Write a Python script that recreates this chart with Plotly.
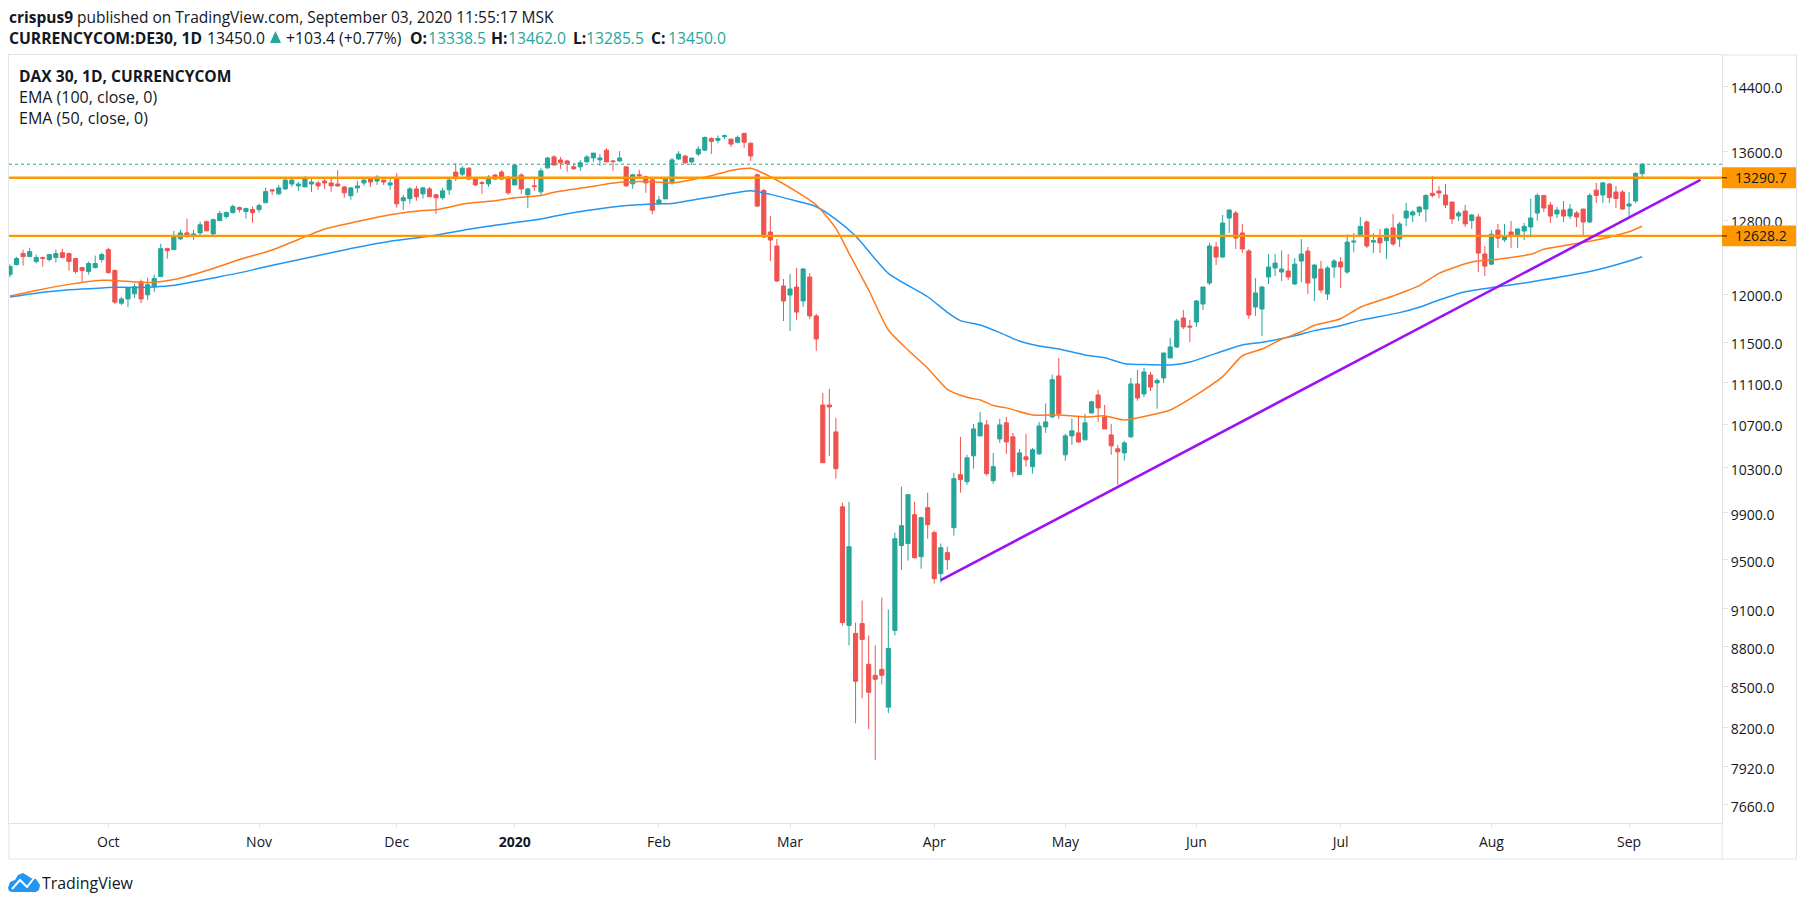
import math
import plotly.graph_objects as go

# daily bars, bar 0 = Sep 2019, last bar = Sep 3 2020
opens = [
    12207, 12315, 12434, 12401, 12347, 12390, 12369, 12390, 12444, 12434,
    12380, 12282, 12239, 12282, 12369, 12477, 12250, 11904, 11948, 12002,
    12131, 11991, 12077, 12185, 12488, 12477, 12596, 12662, 12628, 12662,
    12788, 12651, 12799, 12845, 12890, 12947, 12902, 12924, 12924, 13004,
    13150, 13104, 13161, 13218, 13196, 13184, 13218, 13230, 13253, 13230,
    13218, 13184, 13082, 13173, 13230, 13275, 13253, 13264, 13207, 13287,
    13025, 13048, 13161, 13104, 13161, 13093, 13059, 13150, 13357, 13333,
    13403, 13275, 13233, 13218, 13322, 13357, 13298, 13207, 13322, 13093,
    13197, 13127, 13407, 13536, 13501, 13489, 13419, 13419, 13477, 13524,
    13501, 13617, 13489, 13489, 13419, 13220, 13326, 13302, 13267, 12999,
    13046, 13244, 13512, 13547, 13477, 13571, 13617, 13758, 13735, 13780,
    13750, 13712, 13820, 13700, 13326, 13142, 12672, 12517, 12085, 11989,
    12074, 11926, 12180, 11771, 10885, 10885, 10630, 9953, 8967, 8905,
    8982, 8666, 8583, 8628, 8346, 8928, 9620, 9637, 9884, 9526,
    9945, 9730, 9385, 9560, 9772, 10238, 10175, 10409, 10593, 10696,
    10184, 10565, 10715, 10584, 10238, 10400, 10310, 10427, 10677, 10771,
    11166, 10418, 10593, 10621, 10556, 10809, 10981, 10771, 10602, 10473,
    10436, 10584, 11088, 10991, 11175, 11098, 11146, 11344, 11454, 11750,
    11667, 11708, 11895, 12116, 12506, 12396, 12829, 12885, 12661, 12462,
    11864, 11843, 12181, 12277, 12234, 12245, 12106, 12353, 12462, 12170,
    12266, 12000, 12288, 12342, 12234, 12560, 12628, 12784, 12560, 12605,
    12576, 12718, 12594, 12829, 12863, 12897, 12930, 13110, 13136, 13091,
    13010, 12851, 12908, 12800, 12840, 12429, 12319, 12693, 12585, 12672,
    12639, 12683, 12728, 12885, 13086, 12976, 12874, 12919, 12851, 12885,
    12930, 12784, 13147, 13091, 13218, 13125, 13125, 12964, 13022, 13338.5,
]
highs = [
    12315, 12398, 12477, 12498, 12423, 12401, 12423, 12477, 12488, 12444,
    12380, 12282, 12347, 12412, 12444, 12498, 12261, 11969, 12066, 12110,
    12153, 12174, 12207, 12542, 12498, 12685, 12696, 12822, 12696, 12788,
    12799, 12822, 12913, 12902, 12981, 12959, 12947, 12959, 12993, 13175,
    13161, 13207, 13298, 13287, 13241, 13310, 13275, 13253, 13287, 13287,
    13380, 13196, 13184, 13253, 13275, 13287, 13322, 13264, 13298, 13345,
    13093, 13184, 13196, 13184, 13184, 13104, 13173, 13298, 13462, 13427,
    13415, 13287, 13253, 13322, 13333, 13380, 13310, 13450, 13345, 13173,
    13290, 13407, 13536, 13559, 13536, 13501, 13466, 13501, 13559, 13582,
    13571, 13641, 13501, 13606, 13419, 13337, 13384, 13314, 13279, 13080,
    13302, 13524, 13606, 13559, 13524, 13664, 13782, 13770, 13794, 13805,
    13750, 13794, 13820, 13712, 13337, 13165, 12851, 12594, 12159, 12213,
    12277, 12277, 12223, 11792, 11001, 11040, 10762, 9988, 9997, 8990,
    9166, 8889, 8811, 9190, 9094, 9730, 10131, 10060, 9997, 9867,
    10077, 9747, 9637, 9610, 10256, 10584, 10418, 10705, 10819, 10743,
    10436, 10753, 10771, 10621, 10473, 10612, 10482, 10724, 10900, 11180,
    11344, 10612, 10753, 10771, 10800, 10925, 11030, 10885, 10705, 10510,
    10547, 11146, 11225, 11244, 11205, 11141, 11394, 11545, 11742, 11833,
    11730, 11937, 12074, 12551, 12560, 12863, 12925, 12908, 12762, 12484,
    12170, 12085, 12429, 12429, 12468, 12429, 12385, 12594, 12506, 12319,
    12353, 12298, 12374, 12396, 12646, 12661, 12840, 12800, 12661, 12706,
    12718, 12874, 12784, 13000, 12919, 12964, 13098, 13312, 13194, 13218,
    13010, 12908, 12976, 12874, 12874, 12517, 12693, 12762, 12762, 12795,
    12706, 12773, 13050, 13110, 13086, 13010, 12953, 13022, 12988, 12908,
    12930, 13110, 13231, 13243, 13231, 13194, 13147, 13125, 13354, 13462,
]
lows = [
    12178, 12304, 12304, 12401, 12326, 12293, 12347, 12336, 12390, 12250,
    12218, 12131, 12207, 12272, 12336, 12218, 11894, 11883, 11861, 11958,
    11904, 11937, 12023, 12185, 12380, 12477, 12585, 12606, 12585, 12628,
    12685, 12639, 12799, 12822, 12879, 12890, 12822, 12776, 12890, 12993,
    13093, 13093, 13150, 13184, 13139, 13184, 13127, 13150, 13161, 13127,
    13184, 13059, 13036, 13116, 13196, 13184, 13207, 13207, 13150, 12945,
    12922, 12990, 13025, 13048, 13070, 12876, 13036, 13093, 13253, 13310,
    13264, 13196, 13104, 13184, 13264, 13264, 13093, 13207, 13104, 12945,
    13139, 13080, 13396, 13431, 13396, 13361, 13384, 13372, 13477, 13477,
    13431, 13477, 13372, 13477, 13186, 13162, 13290, 13116, 12871, 12976,
    13046, 13209, 13501, 13454, 13442, 13547, 13606, 13571, 13700, 13750,
    13655, 13700, 13642, 13489, 12952, 12606, 12353, 12127, 11718, 11616,
    11729, 11864, 11740, 11414, 10346, 10409, 10202, 8967, 8811, 8229,
    8411, 8186, 7967, 8515, 8302, 8889, 9418, 9493, 9510, 9426,
    9678, 9303, 9311, 9418, 9704, 10077, 10148, 10292, 10593, 10229,
    10157, 10528, 10428, 10220, 10238, 10310, 10247, 10418, 10621, 10762,
    10753, 10364, 10510, 10528, 10556, 10800, 10724, 10658, 10418, 10148,
    10364, 10575, 10925, 10961, 11018, 10848, 11098, 11344, 11443, 11636,
    11504, 11657, 11833, 12095, 12310, 12385, 12661, 12484, 12440, 11742,
    11771, 11565, 12106, 12191, 12138, 12148, 12095, 12127, 12000, 11926,
    12011, 11937, 12170, 12063, 12213, 12448, 12617, 12495, 12440, 12440,
    12374, 12517, 12506, 12739, 12784, 12851, 12784, 13062, 13050, 12942,
    12762, 12795, 12728, 12706, 12234, 12191, 12309, 12495, 12560, 12495,
    12495, 12583, 12628, 12800, 12897, 12773, 12829, 12784, 12818, 12728,
    12617, 12773, 13000, 13000, 13000, 12942, 12919, 12840, 13000, 13285.5,
]
closes = [
    12293, 12380, 12401, 12455, 12390, 12380, 12423, 12434, 12390, 12347,
    12239, 12250, 12326, 12326, 12423, 12228, 11915, 11948, 12066, 12077,
    11948, 12099, 12164, 12488, 12466, 12628, 12662, 12639, 12651, 12753,
    12685, 12810, 12879, 12890, 12959, 12924, 12936, 12890, 12970, 13130,
    13139, 13173, 13264, 13264, 13218, 13275, 13241, 13196, 13230, 13196,
    13196, 13116, 13173, 13196, 13264, 13241, 13298, 13241, 13230, 12990,
    13059, 13161, 13070, 13173, 13070, 13059, 13139, 13264, 13298, 13403,
    13275, 13207, 13226, 13298, 13275, 13275, 13116, 13439, 13161, 13161,
    13190, 13372, 13524, 13442, 13466, 13454, 13396, 13466, 13536, 13582,
    13524, 13477, 13481, 13524, 13197, 13326, 13314, 13232, 12917, 13034,
    13279, 13501, 13571, 13466, 13524, 13629, 13770, 13723, 13758, 13790,
    13690, 13770, 13712, 13547, 12964, 12617, 12583, 12138, 11926, 12053,
    11811, 12267, 11771, 11535, 10346, 10866, 10292, 8990, 9610, 8538,
    8858, 8456, 8553, 8583, 8788, 9678, 9789, 10060, 9518, 9858,
    9798, 9344, 9602, 9501, 10202, 10193, 10391, 10658, 10715, 10247,
    10310, 10696, 10537, 10265, 10436, 10373, 10464, 10686, 10724, 11130,
    10800, 10593, 10640, 10537, 10715, 10915, 10857, 10658, 10501, 10446,
    10528, 11088, 10952, 11205, 11058, 11122, 11394, 11454, 11719, 11657,
    11657, 11926, 12074, 12517, 12396, 12773, 12919, 12605, 12484, 11781,
    12011, 12074, 12288, 12331, 12266, 12181, 12319, 12429, 12116, 12309,
    12042, 12277, 12353, 12288, 12560, 12570, 12735, 12517, 12576, 12551,
    12706, 12540, 12762, 12908, 12897, 12953, 13086, 13086, 13114, 12976,
    12818, 12885, 12762, 12863, 12440, 12298, 12646, 12605, 12617, 12639,
    12706, 12735, 12829, 13086, 12942, 12851, 12919, 12851, 12930, 12840,
    12784, 13086, 13086, 13231, 13062, 13050, 12930, 12988, 13342, 13450,
]

# EMA lines, read at a subset of the bars
ema50_bars = [0, 4, 9, 14, 15, 19, 22, 25, 31, 35, 40, 45, 48, 53, 58, 63, 65, 70, 74, 77,
              81, 83, 88, 93, 98, 101, 104, 107, 110, 113, 116, 120, 123, 126, 128, 131, 134, 137, 140, 143,
              146, 148, 150, 152, 156, 160, 164, 167, 170, 174, 177, 180, 182, 185, 188, 191, 194, 197, 199, 203,
              206, 211, 215, 218, 223, 227, 232, 234, 242, 247, 249]
ema50 = [11980, 12038, 12102, 12146, 12146, 12128, 12124, 12153, 12272, 12369, 12474, 12618, 12705, 12789, 12865, 12914, 12922, 12998, 13025, 13059,
         13085, 13123, 13180, 13238, 13245, 13230, 13268, 13314, 13376, 13402, 13303, 13129, 12976, 12713, 12437, 12042, 11626, 11424, 11242, 11036,
         10959, 10933, 10879, 10857, 10790, 10790, 10771, 10781, 10743, 10789, 10837, 10943, 11022, 11159, 11366, 11434, 11532, 11608, 11675, 11742,
         11861, 11979, 12088, 12220, 12342, 12372, 12426, 12481, 12583, 12675, 12736]
ema100_bars = [0, 4, 9, 14, 15, 19, 22, 25, 31, 35, 39, 51, 58, 64, 70, 74, 77, 81, 83, 88,
               93, 98, 101, 104, 107, 110, 113, 116, 120, 123, 126, 129, 134, 140, 143, 145, 148, 151, 154, 157,
               160, 164, 167, 170, 174, 177, 180, 184, 188, 191, 196, 199, 203, 206, 212, 215, 218, 222, 227, 232,
               242, 247, 249]
ema100 = [11969, 12009, 12045, 12063, 12070, 12070, 12074, 12092, 12171, 12225, 12290, 12474, 12569, 12626, 12702, 12747, 12777, 12817, 12848, 12913,
          12963, 12989, 12993, 13031, 13069, 13108, 13140, 13098, 13021, 12957, 12814, 12628, 12220, 11971, 11808, 11722, 11677, 11599, 11514, 11464,
          11434, 11374, 11347, 11287, 11277, 11274, 11304, 11390, 11474, 11501, 11568, 11620, 11670, 11725, 11805, 11861, 11937, 12024, 12077, 12127,
          12255, 12353, 12400]

# drawn lines on the chart
resistance = 13290.7
support = 12628.2
last_close = 13450.0
trend_bars = [142, 257.9]
trend_prices = [9331, 13265]

price_ticks = [14400, 13600, 12800, 12000, 11500, 11100, 10700, 10300, 9900, 9500, 9100, 8800, 8500, 8200, 7920, 7660]
month_bars = [15, 38, 59, 77, 99, 119, 141, 161, 181, 203, 226, 247]
month_labels = ["Oct", "Nov", "Dec", "<b>2020</b>", "Feb", "Mar", "Apr", "May", "Jun", "Jul", "Aug", "Sep"]

UP = "#26a69a"
DOWN = "#ef5350"
HLINE = "#ff9800"
BORDER = "#e0e3eb"
TEXT = "#131722"
FONT = "Open Sans"

W, H = 1805, 906
L, R, T, B = 9, 1722, 55, 823
X_RANGE = [-0.15, 261.18]
LOG_RANGE = [math.log10(7538), math.log10(14805)]


# page pixels to paper fractions, for the frame and the logo
def px(x):
    return (x - L) / (R - L)


def py(y):
    return (B - y) / (B - T)


def price_frac(p):
    return (math.log10(p) - LOG_RANGE[0]) / (LOG_RANGE[1] - LOG_RANGE[0])


def pixel_path(points, close=True):
    path = "M " + " L ".join(f"{px(a):.5f},{py(b):.5f}" for a, b in points)
    return path + " Z" if close else path


bars = list(range(len(closes)))
fig = go.Figure()

fig.add_trace(go.Scatter(x=X_RANGE, y=[last_close, last_close], mode="lines",
                         line=dict(color=UP, width=1, dash="dot")))
fig.add_trace(go.Candlestick(
    x=bars, open=opens, high=highs, low=lows, close=closes,
    increasing=dict(line=dict(color=UP, width=1), fillcolor=UP),
    decreasing=dict(line=dict(color=DOWN, width=1), fillcolor=DOWN),
    whiskerwidth=0,
))
fig.add_trace(go.Scatter(x=ema100_bars, y=ema100, mode="lines",
                         line=dict(color="#2196f3", width=1.5, shape="spline", smoothing=0.6)))
fig.add_trace(go.Scatter(x=ema50_bars, y=ema50, mode="lines",
                         line=dict(color="#ff7a1a", width=1.5, shape="spline", smoothing=0.6)))
for level in [resistance, support]:
    fig.add_trace(go.Scatter(x=X_RANGE, y=[level, level], mode="lines", line=dict(color=HLINE, width=2.3)))
fig.add_trace(go.Scatter(x=trend_bars, y=trend_prices, mode="lines", line=dict(color="#9c12f2", width=2.6)))

fig.update_layout(
    width=W, height=H,
    margin=dict(l=L, r=W - R, t=T, b=H - B, pad=0),
    paper_bgcolor="white", plot_bgcolor="white",
    showlegend=False, hovermode=False, boxgap=0.1,
    font=dict(family=FONT, size=14, color=TEXT),
    xaxis=dict(type="linear", range=X_RANGE, rangeslider=dict(visible=False),
               tickmode="array", tickvals=month_bars, ticktext=month_labels,
               ticks="outside", ticklen=4, tickcolor=BORDER, showgrid=False, zeroline=False,
               ticklabelstandoff=2,
               showline=True, linecolor=BORDER, linewidth=1, mirror=True),
    yaxis=dict(type="log", side="right", range=LOG_RANGE,
               tickmode="array", tickvals=price_ticks, ticktext=[f"{v:.1f}" for v in price_ticks],
               ticks="outside", ticklen=5, tickcolor=BORDER, showgrid=False, zeroline=False,
               ticklabelshift=2,
               showline=True, linecolor=BORDER, linewidth=1, mirror=True),
)

# outer frame round the price and time scales
fig.add_shape(type="line", xref="paper", yref="paper", x0=px(1796.5), x1=px(1796.5), y0=py(T), y1=py(859),
              line=dict(color=BORDER, width=1))
fig.add_shape(type="line", xref="paper", yref="paper", x0=px(R), x1=px(1796.5), y0=py(T), y1=py(T),
              line=dict(color=BORDER, width=1))
fig.add_shape(type="line", xref="paper", yref="paper", x0=px(L), x1=px(1796.5), y0=py(859), y1=py(859),
              line=dict(color=BORDER, width=1))
fig.add_shape(type="line", xref="paper", yref="paper", x0=px(L), x1=px(L), y0=py(B), y1=py(859),
              line=dict(color=BORDER, width=1))
fig.add_shape(type="line", xref="paper", yref="paper", x0=px(R), x1=px(R), y0=py(B), y1=py(859),
              line=dict(color=BORDER, width=1))

# price labels of the two orange lines
for level in [resistance, support]:
    f = price_frac(level)
    box = 10.4 / (B - T)
    fig.add_shape(type="rect", xref="paper", yref="paper", x0=1, x1=px(1796), y0=f - box, y1=f + box,
                  fillcolor=HLINE, line=dict(width=0))
    fig.add_shape(type="line", xref="paper", yref="paper", x0=1, x1=px(R + 5), y0=f, y1=f,
                  line=dict(color=TEXT, width=1))
    fig.add_annotation(xref="paper", yref="paper", x=px(R + 11), y=f, xanchor="left", yanchor="middle",
                       text=f"{level:.1f}", showarrow=False, font=dict(size=14, color=TEXT))

# header, legend and footer texts: x, y, size, colour, text
texts = [
    (7, 17, 15.5, TEXT, "<b>crispus9</b> published on TradingView.com, September 03, 2020 11:55:17 MSK"),
    (7, 38, 15.7, TEXT, "<b>CURRENCYCOM:DE30, 1D</b>"),
    (205, 38, 15.7, TEXT, "13450.0"),
    (284, 38, 15.7, TEXT, "+103.4 (+0.77%)"),
    (408, 38, 15.7, TEXT, "<b>O:</b>"),
    (426, 38, 15.7, UP, "13338.5"),
    (489, 38, 15.7, TEXT, "<b>H:</b>"),
    (506, 38, 15.7, UP, "13462.0"),
    (571, 38, 15.7, TEXT, "<b>L:</b>"),
    (584, 38, 15.7, UP, "13285.5"),
    (649, 38, 15.7, TEXT, "<b>C:</b>"),
    (666, 38, 15.7, UP, "13450.0"),
    (17, 76, 15.6, TEXT, "<b>DAX 30, 1D, CURRENCYCOM</b>"),
    (17, 97, 16, TEXT, "EMA (100, close, 0)"),
    (17, 118, 16, TEXT, "EMA (50, close, 0)"),
    (40, 883, 15.9, TEXT, "TradingView"),
]
for x, y, size, color, text in texts:
    fig.add_annotation(xref="paper", yref="paper", x=px(x), y=py(y), xanchor="left", yanchor="middle",
                       text=text, showarrow=False, font=dict(size=size, color=color))

# up arrow in the header
fig.add_shape(type="path", xref="paper", yref="paper", path=pixel_path([(270, 43), (275.5, 31), (281, 43)]),
              fillcolor=UP, line=dict(width=0))

# TradingView logo
cloud = [(8, 888), (10, 882), (15, 880), (18, 875), (23, 873), (28, 876), (31, 878), (36, 879), (40, 885),
         (39, 890), (36, 892), (12, 892), (9, 891)]
fig.add_shape(type="path", xref="paper", yref="paper", path=pixel_path(cloud), fillcolor="#2196f3", line=dict(width=0))
zigzag = [(12, 889), (20, 880), (27, 887), (34, 878)]
fig.add_shape(type="path", xref="paper", yref="paper", path=pixel_path(zigzag, close=False),
              line=dict(color="white", width=2))

fig.write_html("out.html", config=dict(displayModeBar=False),
               post_script="document.body.style.margin='0';document.body.style.overflow='hidden';")
